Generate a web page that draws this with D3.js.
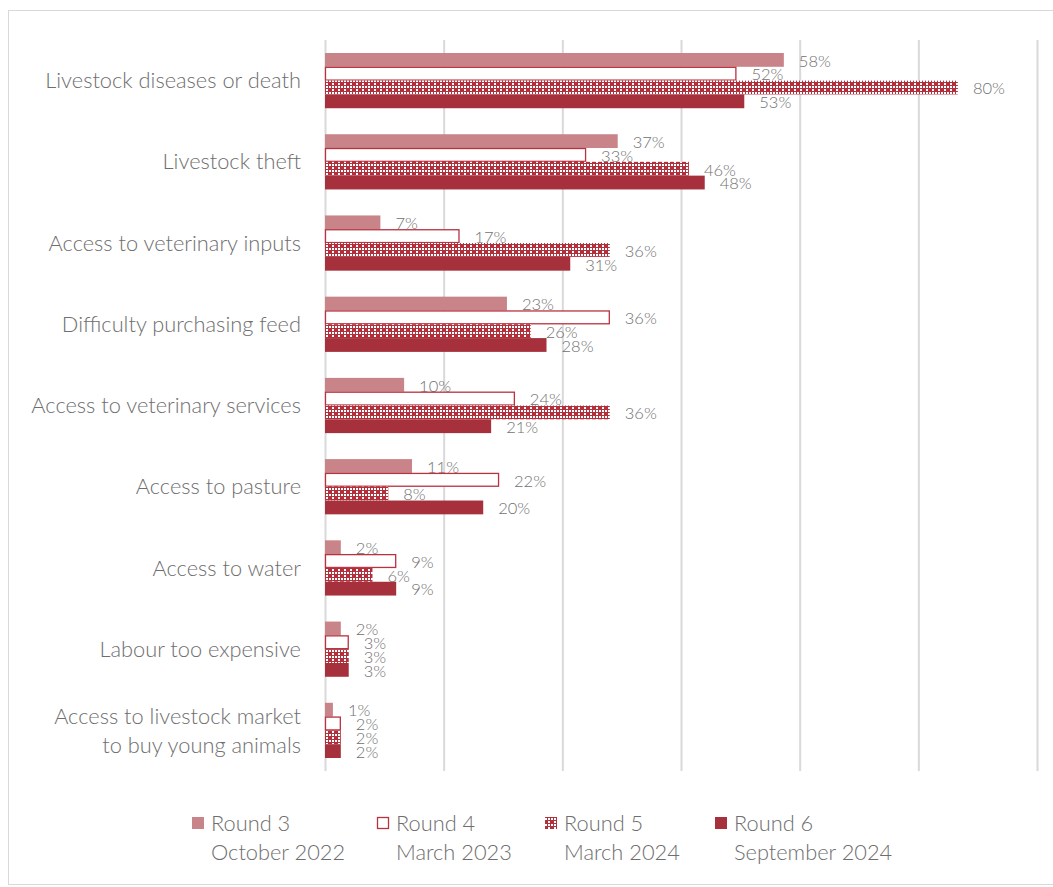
<!DOCTYPE html>
<html>
<head>
<meta charset="utf-8">
<script src="https://cdn.jsdelivr.net/npm/d3@7"></script>
<style>
  html, body { margin: 0; padding: 0; background: #fff; }
  svg { display: block; font-family: "Lato", "Open Sans", sans-serif; }
</style>
</head>
<body>
<svg id="chart" width="1053" height="887"></svg>
<script>
// Livestock production challenges reported by households, by survey round (%)
const categories = [
  ["Livestock diseases or death"],
  ["Livestock theft"],
  ["Access to veterinary inputs"],
  ["Difficulty purchasing feed"],
  ["Access to veterinary services"],
  ["Access to pasture"],
  ["Access to water"],
  ["Labour too expensive"],
  ["Access to livestock market", "to buy young animals"]
];
const round3 = [58, 37, 7, 23, 10, 11, 2, 2, 1];
const round4 = [52, 33, 17, 36, 24, 22, 9, 3, 2];
const round5 = [80, 46, 36, 26, 36, 8, 6, 3, 2];
const round6 = [53, 48, 31, 28, 21, 20, 9, 3, 2];
const seriesNames = ["Round 3", "Round 4", "Round 5", "Round 6"];
const seriesDates = ["October 2022", "March 2023", "March 2024", "September 2024"];
const xTicks = [0, 15, 30, 45, 60, 75, 90];

const series = [round3, round4, round5, round6];
const svg = d3.select("#chart");

// pattern for Round 5: red field with small white crosses
const defs = svg.append("defs");
const pat = defs.append("pattern")
  .attr("id", "cross").attr("patternUnits", "userSpaceOnUse")
  .attr("width", 6).attr("height", 6);
pat.append("rect").attr("width", 6).attr("height", 6).attr("fill", "#b22f3c");
pat.append("rect").attr("x", 2).attr("y", 0).attr("width", 2).attr("height", 1).attr("fill", "#fff");
pat.append("rect").attr("x", 0).attr("y", 2).attr("width", 1).attr("height", 2).attr("fill", "#fff");
pat.append("rect").attr("x", 5).attr("y", 2).attr("width", 1).attr("height", 2).attr("fill", "#fff");
pat.append("rect").attr("x", 2).attr("y", 5).attr("width", 2).attr("height", 1).attr("fill", "#fff");
pat.append("rect").attr("x", 2).attr("y", 2).attr("width", 2).attr("height", 2).attr("fill", "#fff");

const styles = [
  { fill: "#c9848a", stroke: "none" },
  { fill: "#ffffff", stroke: "#b8323f" },
  { fill: "url(#cross)", stroke: "none" },
  { fill: "#a6313d", stroke: "none" }
];

const textColor = "#6e6e6e";
const valueColor = "#707070";

// outer frame
svg.append("rect").attr("x", 8.5).attr("y", 10.5).attr("width", 1050).attr("height", 874)
  .attr("fill", "none").attr("stroke", "#d9d9d9").attr("stroke-width", 1);

const x = d3.scaleLinear().domain([0, 90]).range([325, 1037]);
const y = d3.scaleBand().domain(d3.range(categories.length)).range([40, 771])
  .paddingInner(0.32).paddingOuter(0.16);
const yInner = d3.scaleBand().domain(d3.range(series.length)).range([0, y.bandwidth()]);

// vertical gridlines
const grid = d3.axisBottom(x).tickValues(xTicks).tickSize(-(771 - 40)).tickFormat("");
svg.append("g").attr("transform", "translate(0,771)").call(grid)
  .call(g => g.select(".domain").remove())
  .call(g => g.selectAll("line").attr("stroke", "#d9d9d9").attr("stroke-width", 2));

// bars
series.forEach((vals, s) => {
  const g = svg.append("g");
  g.selectAll("rect").data(vals).join("rect")
    .attr("x", x(0) + (s === 1 ? 0.5 : 0))
    .attr("y", (d, i) => y(i) + yInner(s) + (s === 1 ? 0.5 : 0))
    .attr("width", d => x(d) - x(0) - (s === 1 ? 1 : 0))
    .attr("height", yInner.bandwidth() - (s === 1 ? 1 : 0))
    .attr("fill", styles[s].fill)
    .attr("stroke", styles[s].stroke)
    .attr("stroke-width", s === 1 ? 1.3 : 0);
  g.selectAll("text").data(vals).join("text")
    .attr("x", d => x(d) + 15)
    .attr("y", (d, i) => y(i) + yInner(s) + yInner.bandwidth() / 2 + 1)
    .attr("dy", "0.35em")
    .attr("fill", valueColor)
    .attr("font-size", 16.5)
    .attr("font-weight", 300)
    .text(d => d + "%");
});

// category labels
const yAxis = svg.append("g");
categories.forEach((lines, i) => {
  const cy = y(i) + y.bandwidth() / 2;
  const t = yAxis.append("text")
    .attr("text-anchor", "end").attr("fill", textColor)
    .attr("font-size", 21.8).attr("font-weight", 300);
  lines.forEach((ln, k) => {
    t.append("tspan").attr("x", 301)
      .attr("y", cy + (k - (lines.length - 1) / 2) * 29)
      .attr("dy", "0.35em").text(ln);
  });
});

// legend
const legX = [192, 377, 545, 715];
const leg = svg.append("g");
seriesNames.forEach((name, s) => {
  leg.append("rect")
    .attr("x", legX[s] + (s === 1 ? 0.5 : 0)).attr("y", 817 + (s === 1 ? 0.5 : 0))
    .attr("width", s === 1 ? 11 : 12).attr("height", s === 1 ? 11 : 12)
    .attr("fill", styles[s].fill).attr("stroke", styles[s].stroke)
    .attr("stroke-width", s === 1 ? 1.3 : 0);
  leg.append("text").attr("x", legX[s] + 19).attr("y", 823).attr("dy", "0.35em")
    .attr("fill", textColor).attr("font-size", 21.8).attr("font-weight", 300).text(name);
  leg.append("text").attr("x", legX[s] + 19).attr("y", 852).attr("dy", "0.35em")
    .attr("fill", textColor).attr("font-size", 21.8).attr("font-weight", 300).text(seriesDates[s]);
});
</script>
</body>
</html>
